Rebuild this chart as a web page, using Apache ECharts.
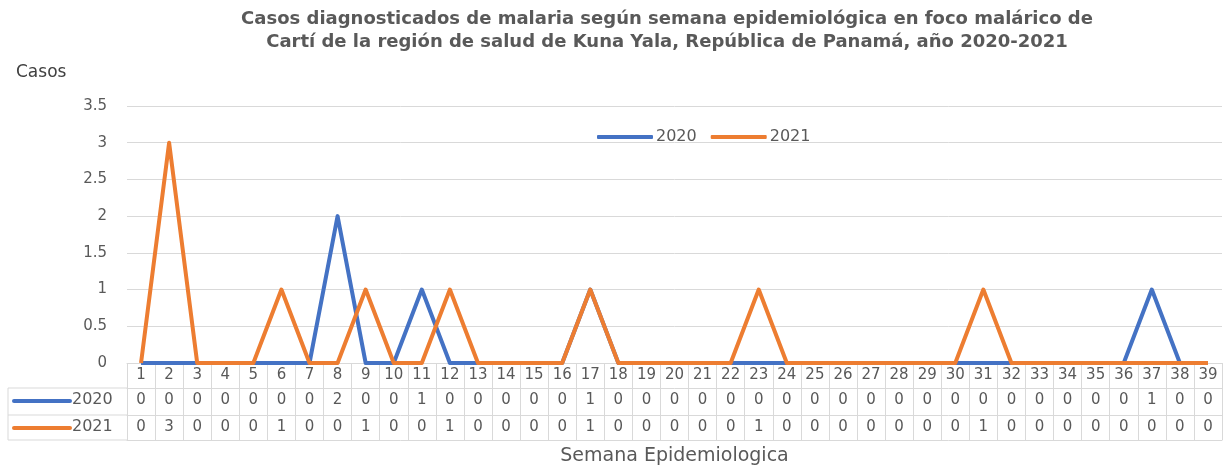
<!DOCTYPE html>
<html lang="es">
<head>
    <meta charset="UTF-8">
    <title>Casos de malaria</title>
    <script src="https://cdn.jsdelivr.net/npm/echarts@6/dist/echarts.min.js"></script>
    <style>
        html, body { margin: 0; padding: 0; background: #fff; }
        #main { width: 1226px; height: 466px; }
    </style>
</head>
<body>
<div id="main"></div>
<script type="text/javascript">
    var semanas = ['1', '2', '3', '4', '5', '6', '7', '8', '9', '10', '11', '12', '13', '14', '15', '16', '17', '18', '19', '20',
        '21', '22', '23', '24', '25', '26', '27', '28', '29', '30', '31', '32', '33', '34', '35', '36', '37', '38', '39'];
    var casos2020 = [0, 0, 0, 0, 0, 0, 0, 2, 0, 0, 1, 0, 0, 0, 0, 0, 1, 0, 0, 0,
        0, 0, 0, 0, 0, 0, 0, 0, 0, 0, 0, 0, 0, 0, 0, 0, 1, 0, 0];
    var casos2021 = [0, 3, 0, 0, 0, 1, 0, 0, 1, 0, 0, 1, 0, 0, 0, 0, 1, 0, 0, 0,
        0, 0, 1, 0, 0, 0, 0, 0, 0, 0, 1, 0, 0, 0, 0, 0, 0, 0, 0];
    var yTicks = [0, 0.5, 1, 1.5, 2, 2.5, 3, 3.5];

    var azul = '#4472C4';
    var naranja = '#ED7D31';
    var gris = '#595959';
    var linea = '#d9d9d9';
    var fuente = '"DejaVu Sans", sans-serif';

    var myChart = echarts.init(document.getElementById('main'));

    // ejes extra que hacen de tabla de datos debajo del grafico
    function filaTabla(valores, offset, showLabel) {
        return {
            type: 'category',
            position: 'bottom',
            offset: offset,
            data: valores.map(String),
            axisLine: {show: true, lineStyle: {color: linea, width: 1}},
            axisTick: {show: false},
            axisLabel: {show: showLabel, interval: 0, color: gris, fontSize: 15, fontFamily: fuente, margin: 5},
            splitLine: {show: false}
        };
    }

    var option = {
        animation: false,
        title: [
            {
                text: 'Casos diagnosticados de malaria según semana epidemiológica en foco malárico de\nCartí de la región de salud de Kuna Yala, República de Panamá, año 2020-2021',
                left: 662,
                top: 3,
                textAlign: 'center',
                textStyle: {color: gris, fontSize: 18, fontWeight: 'bold', fontFamily: fuente, lineHeight: 23}
            },
            {
                text: 'Casos',
                left: 11,
                top: 59,
                textStyle: {color: '#404040', fontSize: 17, fontWeight: 'normal', fontFamily: fuente}
            }
        ],
        legend: {
            data: ['2020', '2021'],
            left: 592,
            top: 124,
            icon: 'roundRect',
            itemWidth: 56,
            itemHeight: 4,
            itemGap: 14,
            textStyle: {color: gris, fontSize: 16, fontFamily: fuente, padding: [0, 0, 0, -2]}
        },
        grid: {
            left: 127,
            right: 4,
            top: 106,
            bottom: 103,
            outerBoundsMode: 'none',
            containLabel: false
        },
        xAxis: [
            {
                type: 'category',
                data: semanas,
                boundaryGap: true,
                axisLine: {show: true, lineStyle: {color: linea, width: 1}},
                axisTick: {show: true, interval: 0, length: 77, lineStyle: {color: linea}},
                axisLabel: {interval: 0, color: gris, fontSize: 15, fontFamily: fuente, margin: 5},
                splitLine: {show: false}
            },
            filaTabla(casos2020, 25, true),
            filaTabla(casos2021, 52, true),
            Object.assign(filaTabla(casos2021, 77, false), {
                name: 'Semana Epidemiologica',
                nameLocation: 'middle',
                nameGap: 7,
                nameTextStyle: {color: gris, fontSize: 19, fontFamily: fuente}
            })
        ],
        yAxis: {
            type: 'value',
            min: yTicks[0],
            max: yTicks[yTicks.length - 1],
            interval: 0.5,
            axisLine: {show: false},
            axisTick: {show: false},
            axisLabel: {color: gris, fontSize: 15, fontFamily: fuente, margin: 20},
            splitLine: {show: true, lineStyle: {color: linea, width: 1}}
        },
        graphic: [
            {type: 'line', shape: {x1: 8, y1: 388, x2: 127, y2: 388}, style: {stroke: linea, lineWidth: 1}},
            {type: 'line', shape: {x1: 8, y1: 415, x2: 127, y2: 415}, style: {stroke: linea, lineWidth: 1}},
            {type: 'line', shape: {x1: 8, y1: 440, x2: 127, y2: 440}, style: {stroke: linea, lineWidth: 1}},
            {type: 'line', shape: {x1: 8, y1: 388, x2: 8, y2: 440}, style: {stroke: linea, lineWidth: 1}},
            {type: 'line', shape: {x1: 14, y1: 401, x2: 70, y2: 401}, style: {stroke: azul, lineWidth: 4, lineCap: 'round'}},
            {type: 'line', shape: {x1: 14, y1: 428, x2: 70, y2: 428}, style: {stroke: naranja, lineWidth: 4, lineCap: 'round'}},
            {type: 'text', left: 72, top: 392, style: {text: '2020', fill: gris, font: '16px "DejaVu Sans", sans-serif'}},
            {type: 'text', left: 72, top: 419, style: {text: '2021', fill: gris, font: '16px "DejaVu Sans", sans-serif'}}
        ],
        series: [
            {
                name: '2020',
                type: 'line',
                data: casos2020,
                symbol: 'none',
                color: azul,
                lineStyle: {color: azul, width: 4, join: 'round'}
            },
            {
                name: '2021',
                type: 'line',
                data: casos2021,
                symbol: 'none',
                color: naranja,
                lineStyle: {color: naranja, width: 4, join: 'round'}
            }
        ]
    };
    myChart.setOption(option);
</script>
</body>
</html>
